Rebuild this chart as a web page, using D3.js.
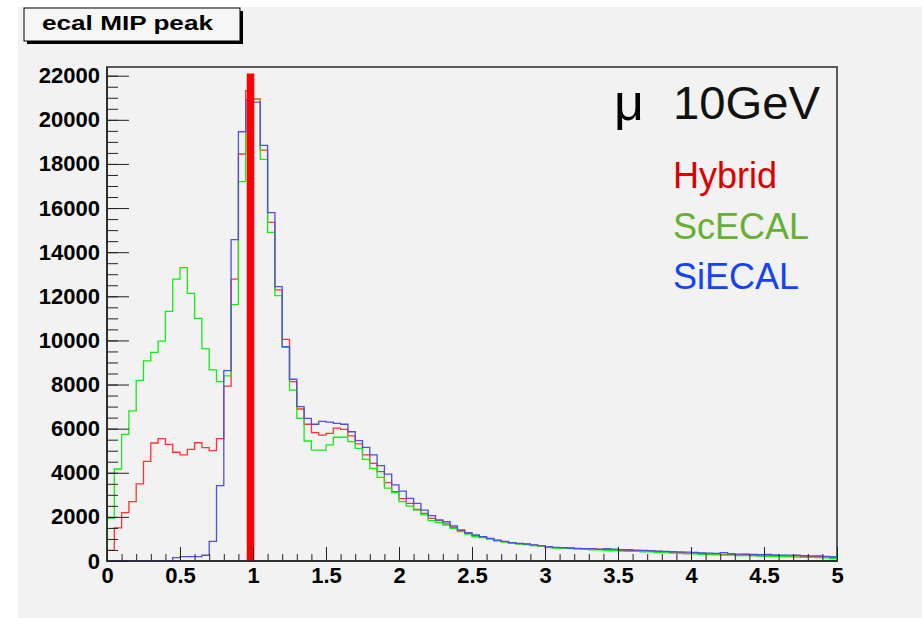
<!DOCTYPE html>
<html>
<head>
<meta charset="utf-8">
<script src="https://cdn.jsdelivr.net/npm/d3@7"></script>
<style>
  body { margin: 0; background: #fff; }
  text { font-family: "Liberation Sans", Arial, sans-serif; }
</style>
</head>
<body>
<svg id="chart"></svg>
<script>
// histogram bins: 100 bins of 0.05 from 0 to 5
const binWidth = 0.05;
const xTickLabels = [0, 0.5, 1, 1.5, 2, 2.5, 3, 3.5, 4, 4.5, 5];
const yTickLabels = [0, 2000, 4000, 6000, 8000, 10000, 12000, 14000, 16000, 18000, 20000, 22000];

const hybrid = [480, 1500, 2190, 2690, 3500, 4520, 5350, 5550, 5290, 4930,
  4810, 5060, 5360, 5140, 5000, 5550, 7930, 12780, 18450, 21320,
  20950, 18630, 15350, 12290, 10050, 8130, 6890, 6200, 5820, 5710,
  5790, 6020, 5970, 5670, 5310, 4810, 4430, 4050, 3550, 3140,
  2830, 2610, 2340, 2160, 1930, 1830, 1680, 1530, 1380, 1250,
  1150, 1090, 1010, 930, 880, 820, 790, 760, 720, 690,
  640, 610, 600, 590, 560, 550, 550, 530, 520, 500,
  480, 470, 470, 460, 440, 430, 400, 390, 380, 360,
  350, 340, 320, 310, 300, 290, 280, 300, 260, 250,
  260, 240, 230, 220, 230, 210, 200, 200, 180, 150];

const scecal = [1930, 4170, 5740, 6810, 8190, 9070, 9460, 9970, 11320, 12780,
  13300, 12130, 11000, 9630, 8660, 8130, 8390, 11620, 17200, 20700,
  20930, 18210, 14900, 12030, 9690, 7750, 6470, 5440, 5030, 5030,
  5260, 5610, 5610, 5410, 5110, 4610, 4200, 3790, 3300, 3100,
  2690, 2490, 2310, 2090, 1830, 1740, 1630, 1480, 1330, 1220,
  1100, 1060, 990, 910, 860, 800, 770, 740, 700, 680,
  610, 590, 570, 560, 540, 530, 510, 500, 480, 470,
  450, 440, 440, 420, 410, 380, 380, 360, 350, 320,
  320, 300, 290, 280, 270, 270, 250, 240, 230, 220,
  210, 200, 200, 190, 180, 170, 160, 150, 140, 110];

const siecal = [0, 0, 0, 0, 0, 0, 0, 0, 0, 150,
  200, 200, 200, 260, 890, 3420, 8630, 14570, 19460, 20900,
  20800, 18840, 15790, 12440, 9720, 8240, 7000, 6470, 6200, 6330,
  6300, 6240, 6200, 5860, 5460, 5150, 4810, 4320, 3940, 3450,
  3170, 2840, 2610, 2310, 2060, 1860, 1780, 1590, 1410, 1280,
  1180, 1100, 1030, 950, 890, 830, 800, 770, 730, 700,
  650, 620, 610, 590, 570, 560, 560, 540, 560, 540,
  520, 510, 490, 480, 470, 450, 440, 420, 410, 400,
  390, 370, 360, 350, 380, 330, 310, 310, 300, 290,
  300, 280, 270, 270, 260, 240, 230, 230, 210, 200];

const seriesNames = ["Hybrid", "ScECAL", "SiECAL"];
const seriesValues = [hybrid, scecal, siecal];
const lineColors = ["#ff3333", "#11ee11", "#5050dd"];
const textColors = ["#dd0000", "#66b034", "#1443f5"];

// MIP marker line
const markerX = 0.983;
const markerTop = 22100;

const W = 922, H = 618;
const svg = d3.select("#chart").attr("width", W).attr("height", H);

// pad background
svg.append("rect").attr("x", 18).attr("y", 7).attr("width", W - 18).attr("height", H - 7)
  .attr("fill", "#f2f2f2");

const frameL = 107, frameR = 837, frameT = 67, frameB = 561;
const x = d3.scaleLinear().domain([0, 5]).range([frameL, frameR]);
const y = d3.scaleLinear().domain([0, 22000]).range([frameB, 75.7]);

// frame
svg.append("rect")
  .attr("x", frameL).attr("y", frameT)
  .attr("width", frameR - frameL).attr("height", frameB - frameT)
  .attr("fill", "none").attr("stroke", "#5a5a5a").attr("stroke-width", 2);

// histograms
const line = d3.line()
  .x(d => x(d[0]))
  .y(d => y(d[1]))
  .curve(d3.curveStepAfter);

seriesValues.forEach(function(vals, i) {
  const pts = [[0, 0]];
  vals.forEach((v, j) => pts.push([j * binWidth, v]));
  pts.push([vals.length * binWidth, vals[vals.length - 1]]);
  pts.push([vals.length * binWidth, 0]);
  svg.append("path")
    .datum(pts)
    .attr("d", line)
    .attr("fill", "none")
    .attr("stroke", lineColors[i])
    .attr("stroke-width", 1.3);
});

// thick red marker
svg.append("line")
  .attr("x1", x(markerX)).attr("x2", x(markerX))
  .attr("y1", y(0)).attr("y2", y(markerTop))
  .attr("stroke", "#ff0000")
  .attr("stroke-width", 7.5);

// y axis: major + minor ticks drawn inward
const yMinor = d3.range(0, 22001, 500);
svg.append("g")
  .attr("transform", `translate(${frameL},0)`)
  .call(d3.axisLeft(y).tickValues(yMinor).tickSize(-11).tickFormat(""))
  .call(g => g.select(".domain").remove());

svg.append("g")
  .attr("class", "yaxis")
  .attr("transform", `translate(${frameL},0)`)
  .call(d3.axisLeft(y).tickValues(yTickLabels).tickSize(-22).tickPadding(7).tickFormat(d3.format("d")))
  .call(g => g.select(".domain").remove())
  .call(g => g.selectAll("text").attr("font-size", 22).attr("font-weight", "bold")
    .attr("fill", "#000").attr("font-family", "Liberation Sans, Arial, sans-serif"));

// x axis
const xMinor = d3.range(0, 51).map(d => d / 10);
svg.append("g")
  .attr("transform", `translate(0,${frameB})`)
  .call(d3.axisBottom(x).tickValues(xMinor).tickSize(-7).tickFormat(""))
  .call(g => g.select(".domain").remove());

svg.append("g")
  .attr("transform", `translate(0,${frameB})`)
  .call(d3.axisBottom(x).tickValues(xTickLabels).tickSize(-14).tickPadding(6.5).tickFormat(d => d))
  .call(g => g.select(".domain").remove())
  .call(g => g.selectAll("text").attr("font-size", 22).attr("font-weight", "bold")
    .attr("fill", "#000").attr("font-family", "Liberation Sans, Arial, sans-serif"));

svg.selectAll(".tick line").attr("stroke", "#222");

// axis lines on top
svg.append("line").attr("x1", frameL).attr("x2", frameL).attr("y1", frameT).attr("y2", frameB)
  .attr("stroke", "#222").attr("stroke-width", 1.5);
svg.append("line").attr("x1", frameL).attr("x2", frameR).attr("y1", frameB).attr("y2", frameB)
  .attr("stroke", "#222").attr("stroke-width", 1.5);

// title box with shadow
svg.append("rect").attr("x", 27).attr("y", 11).attr("width", 216).attr("height", 33).attr("fill", "#000");
svg.append("rect").attr("x", 24).attr("y", 8).attr("width", 216).attr("height", 33)
  .attr("fill", "#f6f6f6").attr("stroke", "#000").attr("stroke-width", 1);
svg.append("text")
  .attr("x", 42).attr("y", 30)
  .attr("font-size", 21).attr("font-weight", "bold")
  .attr("textLength", 171).attr("lengthAdjust", "spacingAndGlyphs")
  .text("ecal MIP peak");

// legend text
svg.append("text")
  .attr("x", 614).attr("y", 120)
  .attr("font-family", "DejaVu Serif, Liberation Serif, serif")
  .attr("font-size", 52)
  .text("μ");
svg.append("text")
  .attr("x", 673).attr("y", 119)
  .attr("font-size", 46)
  .attr("font-weight", 300)
  .attr("fill", "#111")
  .attr("textLength", 147).attr("lengthAdjust", "spacingAndGlyphs")
  .text("10GeV");

svg.selectAll(".legend")
  .data(seriesNames)
  .enter()
  .append("text")
  .attr("class", "legend")
  .attr("x", 673)
  .attr("y", (d, i) => 188 + i * 50.5)
  .attr("font-size", 36)
  .attr("fill", (d, i) => textColors[i])
  .text(d => d);
</script>
</body>
</html>
